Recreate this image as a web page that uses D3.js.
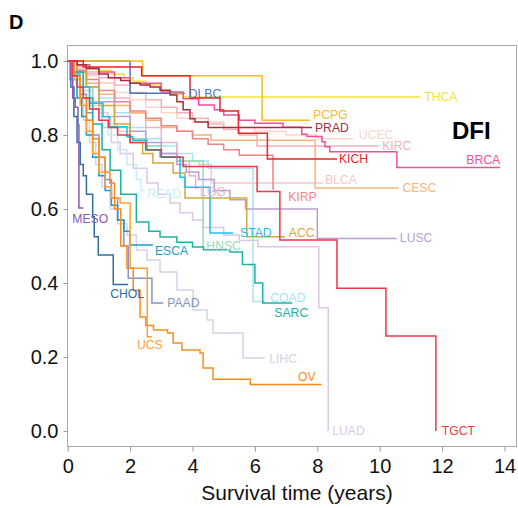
<!DOCTYPE html>
<html lang="en">
<head>
<meta charset="UTF-8">
<script src="https://d3js.org/d3.v7.min.js"></script>
<style>
    body, html {
        width: 100%;
        height: 100%;
        margin: 0;
        overflow: hidden;
        background: #fff;
        font-family: "Liberation Sans", Arial, sans-serif;
    }
    .tick text { font-size: 20px; fill: #111; }
    .tick line { stroke: #9a9a9a; }
    .km { fill: none; stroke-width: 1.5px; }
    .lab { font-size: 12.2px; }
</style>
</head>
<body>
<div id="chart"></div>
<script>
// DFI Kaplan-Meier curves, each point = [years, survival]; last point = end of follow-up
const DLBC = [[0,1],[2.0,0.913],[3.75,0.913]];
const THCA = [[0,1],[0.3,0.99],[0.7,0.98],[1.0,0.975],[1.4,0.965],[1.8,0.955],[2.1,0.945],[2.5,0.935],[3.0,0.92],[3.3,0.91],[3.7,0.903],[11.3,0.903]];
const PCPG = [[0,1],[2.4,0.96],[6.23,0.84],[7.77,0.84]];
const PRAD = [[0,1],[0.3,0.99],[0.6,0.98],[1.0,0.965],[1.3,0.955],[1.7,0.947],[2.0,0.94],[2.32,0.935],[2.64,0.93],[2.96,0.921],[3.28,0.908],[3.5,0.89],[3.7,0.868],[3.92,0.844],[4.08,0.835],[4.5,0.82],[7.83,0.82]];
const UCEC = [[0,1],[0.3,0.98],[0.6,0.96],[1,0.94],[1.5,0.915],[2,0.895],[2.5,0.875],[3,0.86],[3.5,0.845],[4,0.835],[5,0.82],[6,0.81],[7,0.8],[8,0.79],[9.14,0.79]];
const KIRC = [[0,1],[0.3,0.985],[0.6,0.97],[1,0.955],[1.5,0.935],[2,0.915],[2.5,0.895],[3,0.875],[3.5,0.86],[4,0.845],[4.5,0.83],[5,0.815],[5.5,0.8],[6.07,0.77],[9.95,0.77]];
const KICH = [[0,1],[0.5,0.984],[2.37,0.96],[3.92,0.9],[4.88,0.865],[5.47,0.805],[6.4,0.735],[8.63,0.735]];
const BRCA = [[0,1],[0.3,0.99],[0.7,0.98],[1.0,0.97],[1.5,0.955],[2.0,0.94],[3.0,0.916],[3.7,0.898],[4.2,0.881],[4.7,0.868],[5.0,0.854],[5.5,0.84],[6.0,0.832],[6.9,0.821],[7.5,0.802],[7.67,0.796],[8.15,0.782],[8.25,0.768],[8.4,0.755],[10.55,0.712],[13.86,0.712]];
const BLCA = [[0,1],[0.2,0.97],[0.4,0.93],[0.7,0.89],[1,0.86],[1.3,0.83],[1.6,0.81],[2,0.79],[2.5,0.77],[3,0.75],[3.5,0.73],[4.2,0.72],[4.6,0.67],[8.18,0.67]];
const CESC = [[0,1],[0.3,0.97],[0.6,0.94],[1,0.91],[1.5,0.88],[2,0.86],[2.5,0.84],[3,0.82],[3.5,0.81],[4,0.8],[4.6,0.786],[7.93,0.657],[10.6,0.657]];
const KIRP = [[0,1],[0.3,0.975],[0.6,0.95],[1,0.92],[1.5,0.89],[2,0.865],[2.5,0.845],[3,0.825],[3.5,0.81],[4,0.79],[4.5,0.775],[5.0,0.76],[5.5,0.745],[6.58,0.655],[6.62,0.655]];
const LUSC = [[0,1],[0.3,0.97],[0.6,0.93],[1,0.89],[1.5,0.85],[2,0.81],[2.5,0.78],[3,0.75],[3.5,0.72],[3.8,0.7],[4.2,0.68],[4.7,0.65],[5.2,0.625],[5.7,0.6],[8.0,0.52],[10.55,0.52]];
const ACC = [[0,1],[0.3,0.97],[0.6,0.93],[1,0.88],[1.5,0.83],[2,0.78],[2.4,0.75],[2.73,0.724],[3.38,0.697],[3.76,0.63],[5.74,0.525],[6.96,0.525]];
const STAD = [[0,1],[0.14,0.965],[0.39,0.93],[0.7,0.886],[1.13,0.849],[1.35,0.822],[1.9,0.795],[2.09,0.786],[2.54,0.759],[2.96,0.741],[3.6,0.686],[3.76,0.659],[4.56,0.535],[5.3,0.535]];
const LGG = [[0,1],[0.3,0.985],[0.6,0.965],[1,0.94],[1.5,0.9],[2,0.86],[2.5,0.82],[3,0.78],[3.5,0.73],[3.9,0.69],[4.1,0.657],[4.18,0.657]];
const READ = [[0,1],[0.2,0.97],[0.4,0.93],[0.7,0.88],[1,0.84],[1.3,0.8],[1.6,0.76],[1.9,0.72],[2.2,0.68],[2.35,0.65],[2.45,0.65]];
const HNSC = [[0,1],[0.2,0.97],[0.5,0.93],[0.8,0.89],[1.1,0.85],[1.5,0.82],[2,0.79],[2.5,0.77],[3,0.75],[3.5,0.73],[4.34,0.497],[4.38,0.497]];
const ESCA = [[0,1],[0.15,0.95],[0.3,0.9],[0.45,0.85],[0.6,0.8],[0.8,0.74],[1.0,0.69],[1.2,0.65],[1.4,0.61],[1.6,0.57],[1.8,0.54],[2.0,0.503],[2.73,0.503]];
const MESO = [[0,1],[0.08,0.95],[0.16,0.9],[0.24,0.875],[0.33,0.827],[0.36,0.603],[0.5,0.603]];
const CHOL = [[0,1],[0.1,0.93],[0.2,0.85],[0.3,0.78],[0.4,0.72],[0.5,0.69],[0.6,0.64],[0.8,0.58],[0.85,0.525],[0.98,0.476],[1.46,0.396],[1.94,0.396]];
const PAAD = [[0,1],[0.2,0.96],[0.4,0.91],[0.6,0.86],[0.8,0.8],[1.0,0.74],[1.2,0.68],[1.4,0.63],[1.6,0.57],[1.8,0.5],[1.94,0.413],[2.7,0.346],[3.06,0.346]];
const UCS = [[0,1],[0.2,0.95],[0.4,0.88],[0.6,0.81],[0.8,0.75],[1.0,0.7],[1.2,0.66],[1.4,0.63],[1.68,0.616],[2.0,0.44],[2.55,0.255],[2.7,0.255]];
const COAD = [[0,1],[0.3,0.97],[0.6,0.94],[1,0.9],[1.5,0.86],[2,0.82],[2.5,0.79],[3,0.77],[3.5,0.75],[4.0,0.73],[4.5,0.71],[5.94,0.35],[6.3,0.35]];
const SARC = [[0,1],[0.2,0.97],[0.5,0.9],[0.8,0.83],[1.1,0.76],[1.36,0.705],[1.7,0.64],[2.2,0.565],[2.6,0.54],[2.96,0.524],[3.5,0.51],[4.0,0.497],[4.35,0.49],[5.2,0.484],[5.6,0.45],[6.0,0.4],[6.25,0.346],[7.2,0.346]];
const LIHC = [[0,1],[0.15,0.95],[0.3,0.9],[0.5,0.84],[0.7,0.78],[0.9,0.72],[1.1,0.66],[1.36,0.6],[1.6,0.56],[1.9,0.53],[2.2,0.489],[2.54,0.462],[2.96,0.43],[3.5,0.381],[4.02,0.327],[4.47,0.3],[4.66,0.265],[5.62,0.197],[6.33,0.197]];
const OV = [[0,1],[0.2,0.96],[0.4,0.9],[0.6,0.84],[0.8,0.79],[1.0,0.74],[1.2,0.7],[1.35,0.67],[1.5,0.6],[1.7,0.5],[1.9,0.44],[2.1,0.38],[2.32,0.308],[2.5,0.285],[2.75,0.273],[3.2,0.265],[3.38,0.238],[3.66,0.219],[4.24,0.211],[4.34,0.17],[4.66,0.14],[5.85,0.126],[8.14,0.126]];
const LUAD = [[0,1],[0.2,0.97],[0.5,0.92],[0.8,0.87],[1.1,0.82],[1.4,0.78],[1.68,0.75],[2.1,0.71],[2.54,0.67],[2.9,0.64],[3.28,0.616],[3.6,0.59],[4.0,0.57],[4.34,0.55],[5,0.53],[5.5,0.515],[6.1,0.498],[8.05,0.333],[8.35,0]];
const TGCT = [[0,1],[0.15,0.96],[0.3,0.93],[0.5,0.9],[0.7,0.87],[1.0,0.84],[1.3,0.82],[1.6,0.8],[2.0,0.78],[2.5,0.76],[3.0,0.74],[3.7,0.715],[6.07,0.647],[6.8,0.516],[8.63,0.386],[10.2,0.257],[11.8,0]];

const names = ["LUAD","LIHC","READ","COAD","LGG","BLCA","UCEC","KIRC","CESC","KIRP","HNSC","LUSC","ACC","PAAD","CHOL","MESO","ESCA","SARC","STAD","UCS","OV","DLBC","THCA","PCPG","BRCA","PRAD","KICH","TGCT"];
const curves = {DLBC, THCA, PCPG, PRAD, UCEC, KIRC, KICH, BRCA, BLCA, CESC, KIRP, LUSC, ACC, STAD, LGG, READ, HNSC, ESCA, MESO, CHOL, PAAD, UCS, COAD, SARC, LIHC, OV, LUAD, TGCT};
const xTicks = [0, 2, 4, 6, 8, 10, 12, 14];
const yTicks = [0, 0.2, 0.4, 0.6, 0.8, 1.0];

const colors = {
    DLBC: "#4d78c0", THCA: "#f6e232", PCPG: "#f7bd1c", PRAD: "#a3303c", UCEC: "#fcd6c8",
    KIRC: "#f7b0bc", KICH: "#ec2428", BRCA: "#f0509a", BLCA: "#f8c6cc", CESC: "#fdb37a",
    KIRP: "#f08484", LUSC: "#b8a0d6", ACC: "#d6a83e", STAD: "#18c2f0", LGG: "#eeb0cc",
    READ: "#c6ecfa", HNSC: "#98dab6", ESCA: "#1c9cc4", MESO: "#8a5ab6", CHOL: "#2e6ea6",
    PAAD: "#8494c4", UCS: "#ffa232", COAD: "#a8e2f6", SARC: "#1cb2a2", LIHC: "#d2d4e8",
    OV: "#ff8a1a", LUAD: "#dcc8e6", TGCT: "#f23646"
};
// label nudges from the curve end: [dx, dy, anchor]
const labelNudge = {
    PCPG: [3, -6], UCEC: [6, -4], BRCA: [0, -8, "end"], BLCA: [2, -3], KIRP: [14, 8],
    ACC: [4, -4], ESCA: [2, 6], MESO: [-11, 11], CHOL: [-18, 9], UCS: [-15, 8],
    COAD: [6, -4], SARC: [-18, 10], OV: [-6, -8, "end"], HNSC: [2, -2], LGG: [2, 4],
    READ: [3, 3], STAD: [7, 0], KICH: [2, 0], PRAD: [3, 0], LUSC: [3, -1], TGCT: [6, 0]
};

const W = 518, H = 508;
const svg = d3.select("#chart").append("svg").attr("width", W).attr("height", H);

const x = d3.scaleLinear().domain([0, 14]).range([67.7, 504.5]);
const y = d3.scaleLinear().domain([0, 1]).range([431, 61]);

// frame
svg.append("rect")
    .attr("x", 67.5).attr("y", 45.5).attr("width", 449).attr("height", 401)
    .attr("fill", "none").attr("stroke", "#a8a8a8");

svg.append("g")
    .attr("transform", "translate(67.5,0)")
    .call(d3.axisLeft(y).tickValues(yTicks).tickFormat(d3.format(".1f")).tickSize(4).tickPadding(5))
    .call(g => g.select(".domain").remove());

svg.append("g")
    .attr("transform", "translate(0,446.5)")
    .call(d3.axisBottom(x).tickValues(xTicks).tickFormat(d3.format("d")).tickSize(5).tickPadding(7))
    .call(g => g.select(".domain").remove());

svg.selectAll(".tick text").attr("font-family", null);

svg.append("text")
    .attr("x", 297).attr("y", 500)
    .attr("text-anchor", "middle")
    .style("font-size", "21px").style("fill", "#111")
    .text("Survival time (years)");

svg.append("text").attr("x", 9).attr("y", 29)
    .style("font-size", "20px").style("font-weight", "bold").text("D");
svg.append("text").attr("x", 452).attr("y", 139)
    .style("font-size", "24px").style("font-weight", "bold").text("DFI");

const line = d3.line()
    .x(d => x(d[0]))
    .y(d => y(d[1]))
    .curve(d3.curveStepAfter);

svg.append("g").selectAll("path")
    .data(names)
    .enter()
    .append("path")
    .attr("class", "km")
    .attr("stroke", n => colors[n])
    .attr("d", n => line(curves[n]));

svg.append("g").selectAll("text")
    .data(names)
    .enter()
    .append("text")
    .attr("class", "lab")
    .attr("fill", n => colors[n])
    .attr("x", n => {
        const p = curves[n][curves[n].length - 1];
        const nd = labelNudge[n] || [4, 0];
        return x(p[0]) + nd[0];
    })
    .attr("y", n => {
        const p = curves[n][curves[n].length - 1];
        const nd = labelNudge[n] || [4, 0];
        return y(p[1]) + nd[1];
    })
    .attr("dy", "0.36em")
    .attr("text-anchor", n => (labelNudge[n] && labelNudge[n][2]) || "start")
    .text(n => n);
</script>
</body>
</html>
